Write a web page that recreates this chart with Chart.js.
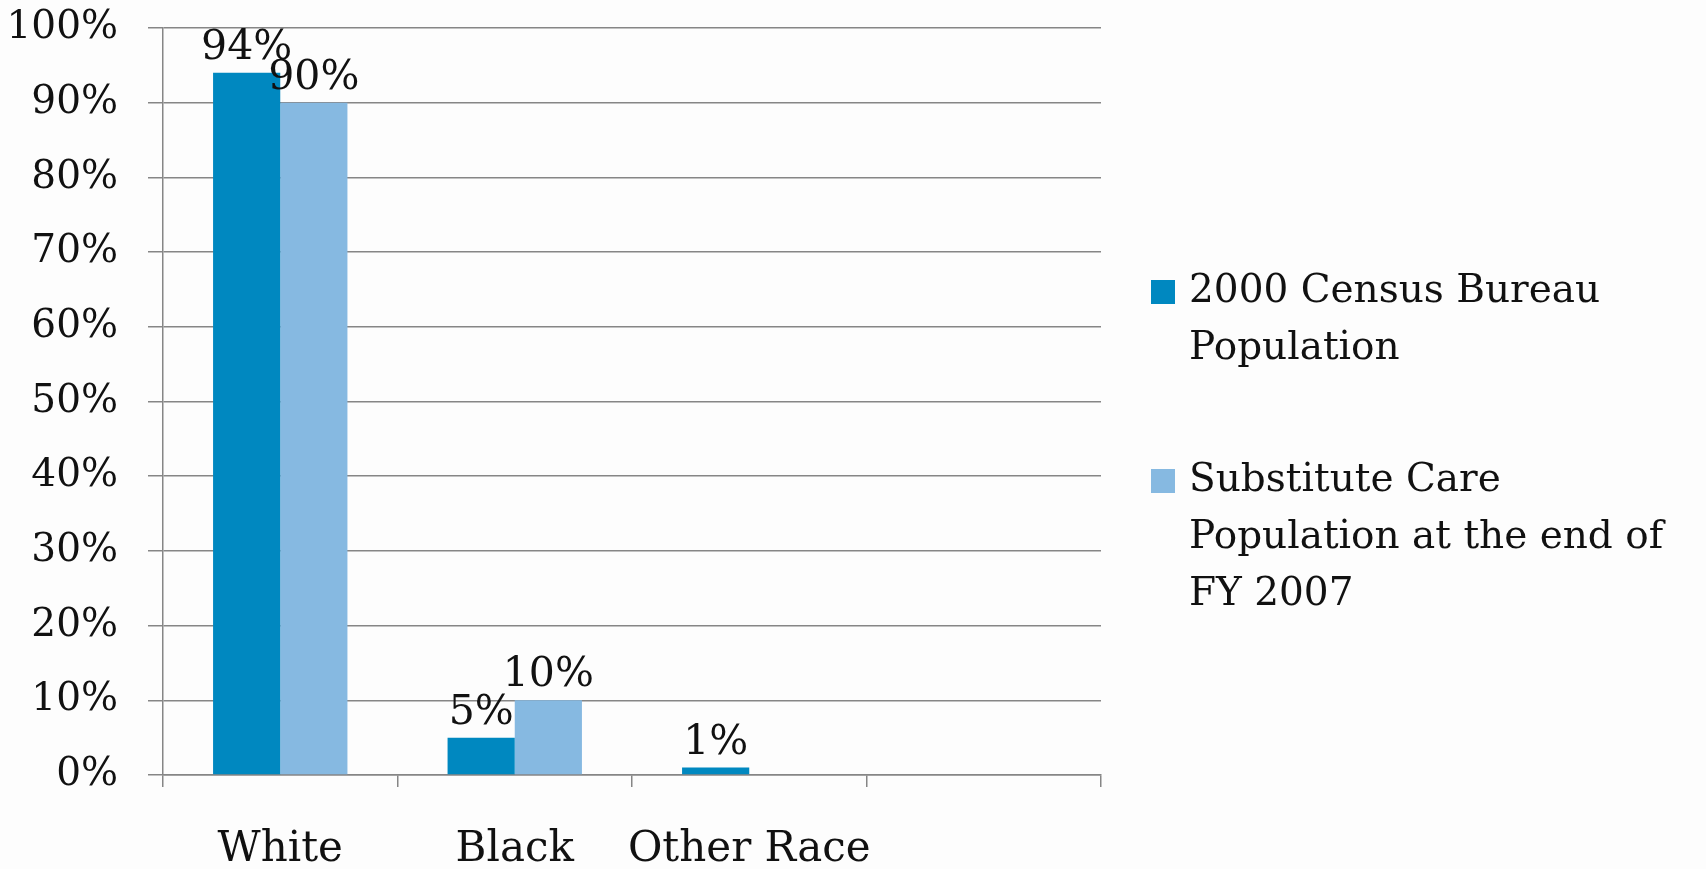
<!DOCTYPE html>
<html>
<head>
<meta charset="utf-8">
<script src="https://cdn.jsdelivr.net/npm/chart.js@4.4.1/dist/chart.umd.min.js"></script>
<style>
  html, body { margin: 0; padding: 0; background: #fdfdfd; }
  #wrap { width: 1706px; height: 869px; }
</style>
</head>
<body>
<div id="wrap"><canvas id="stage" width="1706" height="869"></canvas></div>
<script>
// categories / series
var categories = ["White", "Black", "Other Race", ""];
var census2000 = [94, 5, 1, null];
var substituteCare = [90, 10, 0, null];
var yTicks = [0, 10, 20, 30, 40, 50, 60, 70, 80, 90, 100];

var seriesNames = ["2000 Census Bureau Population", "Substitute Care Population at the end of FY 2007"];
var legendLines = [
  ["2000 Census Bureau", "Population"],
  ["Substitute Care", "Population at the end of", "FY 2007"]
];
var colors = ["#0088c0", "#86b9e1"];

var FONT = "'DejaVu Serif', serif";

// value labels above the bars
var valueLabels = {
  id: 'valueLabels',
  afterDatasetsDraw: function(chart) {
    var ctx = chart.ctx;
    ctx.save();
    ctx.font = "41px " + FONT;
    ctx.fillStyle = "#111";
    ctx.textAlign = "center";
    ctx.textBaseline = "alphabetic";
    chart.data.datasets.forEach(function(ds, i) {
      chart.getDatasetMeta(i).data.forEach(function(bar, j) {
        var v = ds.data[j];
        if (v == null || v <= 0) return;
        ctx.fillText(v + "%", bar.x, bar.y - 14);
      });
    });
    ctx.restore();
  }
};

// legend with wrapped lines on the right
var sideLegend = {
  id: 'sideLegend',
  afterDraw: function(chart) {
    var ctx = chart.ctx;
    var area = chart.chartArea;
    var x = area.right + 50;
    var y = area.top + 264;
    var lineH = 57;
    ctx.save();
    ctx.font = "39px " + FONT;
    ctx.textBaseline = "middle";
    ctx.textAlign = "left";
    legendLines.forEach(function(lines, i) {
      ctx.fillStyle = chart.data.datasets[i].backgroundColor;
      ctx.fillRect(x, y - 12, 24, 24);
      ctx.fillStyle = "#111";
      lines.forEach(function(t, k) {
        ctx.fillText(t, x + 38, y + k * lineH);
      });
      y += lines.length * lineH + 75;
    });
    ctx.restore();
  }
};

var canvas = document.getElementById('stage');
var chart = new Chart(canvas, {
  type: 'bar',
  data: {
    labels: categories,
    datasets: [
      { label: seriesNames[0], data: census2000, backgroundColor: colors[0] },
      { label: seriesNames[1], data: substituteCare, backgroundColor: colors[1] }
    ]
  },
  options: {
    responsive: false,
    animation: false,
    layout: { padding: { left: 0, right: 605, top: 28, bottom: 0 } },
    datasets: { bar: { categoryPercentage: 0.573, barPercentage: 1.0 } },
    plugins: {
      legend: { display: false },
      tooltip: { enabled: false }
    },
    scales: {
      x: {
        grid: { offset: true, drawOnChartArea: false, drawTicks: true, tickLength: 12, color: "#868686", lineWidth: 1.5 },
        border: { color: "#868686", width: 1.5 },
        ticks: {
          color: "#111", padding: 38, autoSkip: false, maxRotation: 0, minRotation: 0,
          font: { family: FONT, size: 42 }
        },
        afterFit: function(scale) {
          scale.height = 94;
          scale.paddingLeft = 0;
          scale.paddingRight = 0;
        }
      },
      y: {
        min: 0, max: 100,
        afterBuildTicks: function(scale) {
          scale.ticks = yTicks.map(function(v) { return { value: v }; });
        },
        grid: { color: "#868686", lineWidth: 1.5, tickLength: 15 },
        border: { color: "#868686", width: 1.5 },
        ticks: {
          color: "#111", padding: 30,
          font: { family: FONT, size: 39 },
          callback: function(v) { return v + "%"; }
        },
        afterFit: function(scale) {
          scale.width = 163;
          scale.paddingTop = 0;
          scale.paddingBottom = 0;
        }
      }
    }
  },
  plugins: [valueLabels, sideLegend]
});
</script>
</body>
</html>
